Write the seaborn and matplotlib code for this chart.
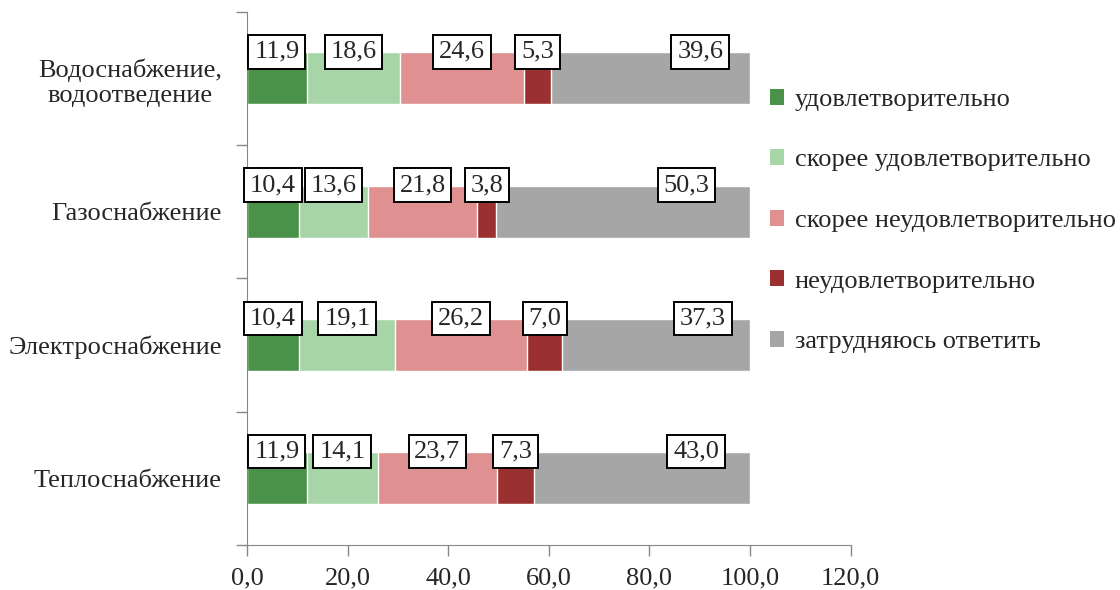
import numpy as np
import pandas as pd
import matplotlib.pyplot as plt
import seaborn as sns
from matplotlib.patches import Patch
from matplotlib.ticker import FixedLocator

categories = ["Водоснабжение,\nводоотведение", "Газоснабжение", "Электроснабжение", "Теплоснабжение"]
series = ["удовлетворительно", "скорее удовлетворительно", "скорее неудовлетворительно",
          "неудовлетворительно", "затрудняюсь ответить"]
good = [11.9, 10.4, 10.4, 11.9]
rather_good = [18.6, 13.6, 19.1, 14.1]
rather_bad = [24.6, 21.8, 26.2, 23.7]
bad = [5.3, 3.8, 7.0, 7.3]
hard_to_say = [39.6, 50.3, 37.3, 43.0]
x_ticks = [0, 20, 40, 60, 80, 100, 120]

colors = ["#4a9249", "#a8d5a8", "#df9090", "#9b3030", "#a6a6a6"]
FS = 19

sns.set_style("white")
plt.rcParams["font.family"] = ["Liberation Serif", "DejaVu Serif"]
plt.rcParams["font.size"] = FS

df = pd.DataFrame(dict(zip(series, [good, rather_good, rather_bad, bad, hard_to_say])))
df["cat"] = categories
cum = df[series].cumsum(axis=1)

fig = plt.figure(figsize=(11.2, 5.9), dpi=100)
ax = fig.add_axes([0.2205, 0.0763, 0.539, 0.9037])

# stacked bars: draw cumulative totals from the right-most segment down
for i in range(len(series) - 1, -1, -1):
    sns.barplot(x=cum[series[i]], y=df["cat"], orient="h", color=colors[i],
                width=0.39, saturation=1, ax=ax)

for j in range(len(categories)):
    left = 0
    for i, s in enumerate(series):
        v = df[s][j]
        frac = 0.75 if i == len(series) - 1 else 0.5
        ax.text(left + v * frac, j - 0.2, f"{v:.1f}".replace(".", ","),
                ha="center", va="center", fontsize=FS,
                bbox=dict(boxstyle="square,pad=0.22", fc="white", ec="black", lw=1.4))
        left += v

ax.set_xlim(0, 120)
ax.set_ylim(3.5, -0.5)
ax.set_xticks(x_ticks)
ax.set_xticklabels([f"{t:.1f}".replace(".", ",") for t in x_ticks])
ax.set_xlabel("")
ax.set_ylabel("")
ax.yaxis.set_minor_locator(FixedLocator(np.arange(-0.5, 4.0, 1.0)))
ax.tick_params(axis="y", which="major", left=False, length=0, pad=18, labelsize=FS)
ax.tick_params(axis="y", which="minor", left=True, direction="out", length=8,
               color="#888888", width=1)
ax.tick_params(axis="x", bottom=True, direction="out", length=8, color="#888888",
               width=1, labelsize=FS, pad=8)
for lab in ax.get_yticklabels():
    lab.set_horizontalalignment("right")
    lab.set_multialignment("center")
for side in ["top", "right"]:
    ax.spines[side].set_visible(False)
for side in ["left", "bottom"]:
    ax.spines[side].set_color("#888888")

handles = [Patch(facecolor=c, edgecolor="none") for c in colors]
fig.legend(handles, series, loc="upper left", bbox_to_anchor=(0.666, 0.89),
           frameon=False, fontsize=FS, handlelength=0.55, handleheight=0.55,
           handletextpad=0.4, labelspacing=1.45)

fig.savefig("out.png", dpi=100)
